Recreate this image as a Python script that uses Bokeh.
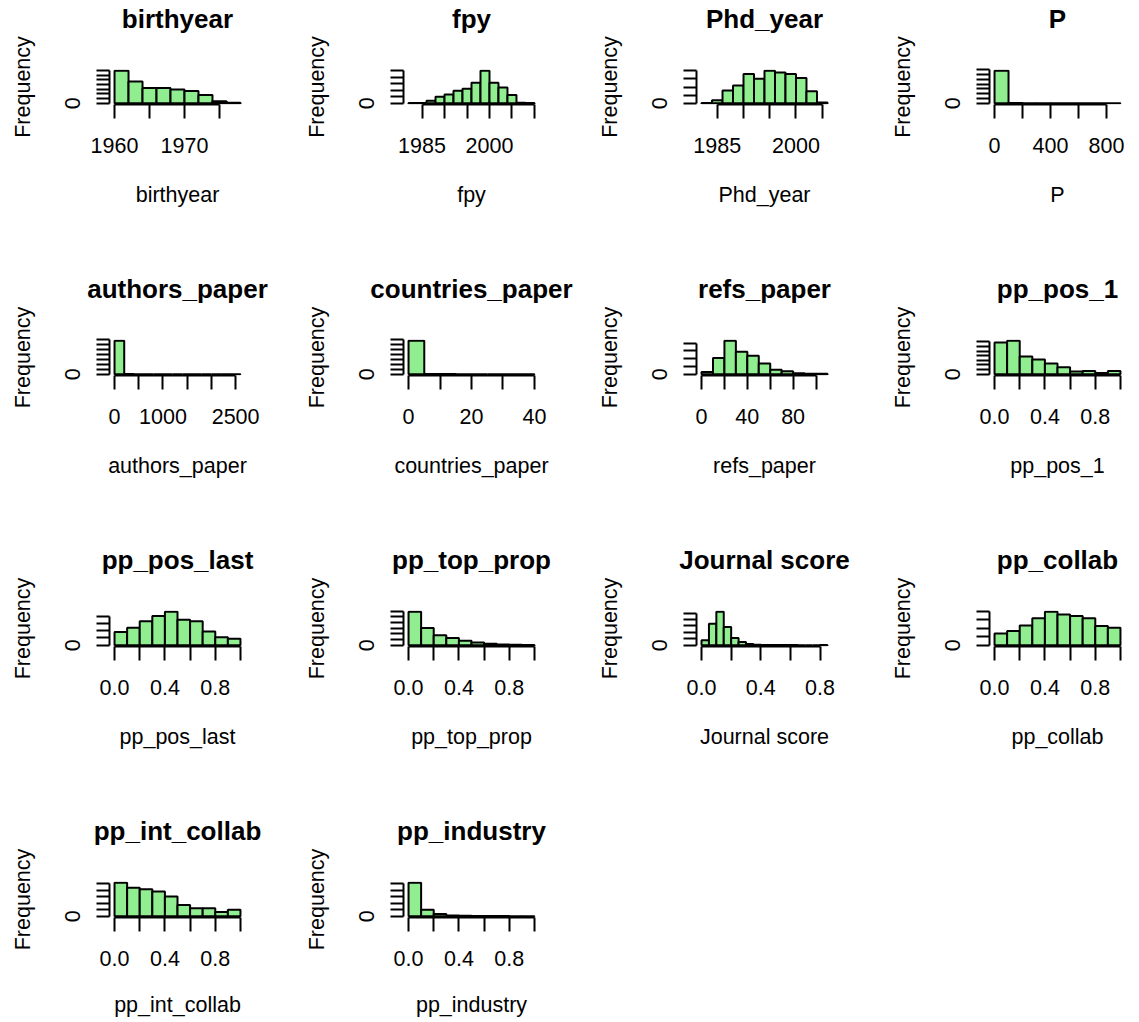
from bokeh.plotting import figure
from bokeh.layouts import column, row
from bokeh.models import Range1d, FixedTicker, LinearAxis
from bokeh.embed import file_html
from bokeh.resources import INLINE

# ---------------- data ----------------
titles = ["birthyear", "fpy", "Phd_year", "P",
          "authors_paper", "countries_paper", "refs_paper", "pp_pos_1",
          "pp_pos_last", "pp_top_prop", "Journal score", "pp_collab",
          "pp_int_collab", "pp_industry"]

bin_start = [1960, 1982, 1982, 0, 0, 0, 0, 0.0, 0.0, 0.0, 0.0, 0.0, 0.0, 0.0]
bin_width = [2, 2, 2, 100, 200, 5, 10, 0.1, 0.1, 0.1, 0.05, 0.1, 0.1, 0.1]

counts_birthyear = [345, 230, 163, 163, 146, 129, 88, 20, 4]
counts_fpy = [1, 2, 19, 49, 68, 97, 112, 158, 250, 158, 121, 63, 3, 1]
counts_phd_year = [2, 19, 78, 109, 181, 151, 200, 190, 181, 155, 74, 4]
counts_p = [1360, 12, 3, 2, 1, 0, 1, 0, 1]
counts_authors_paper = [1360, 3, 1, 0, 0, 0, 0, 0, 0, 0, 0, 0, 1]
counts_countries_paper = [1360, 10, 2, 1, 0, 0, 0, 1]
counts_refs_paper = [28, 208, 428, 288, 236, 136, 56, 36, 12, 4, 4]
counts_pp_pos_1 = [343, 360, 192, 158, 114, 74, 30, 34, 13, 34]
counts_pp_pos_last = [92, 121, 165, 202, 231, 176, 165, 95, 55, 44]
counts_pp_top_prop = [590, 305, 175, 128, 80, 48, 24, 12, 8, 5]
counts_journal_score = [75, 335, 520, 285, 110, 50, 20, 8, 4, 2, 1, 1, 1, 0, 0, 0, 1]
counts_pp_collab = [69, 84, 116, 159, 196, 181, 172, 159, 112, 103]
counts_pp_int_collab = [257, 220, 208, 191, 152, 86, 61, 61, 32, 49]
counts_pp_industry = [1030, 200, 70, 20, 10, 5, 3, 2, 1, 1]

all_counts = [counts_birthyear, counts_fpy, counts_phd_year, counts_p,
              counts_authors_paper, counts_countries_paper, counts_refs_paper, counts_pp_pos_1,
              counts_pp_pos_last, counts_pp_top_prop, counts_journal_score, counts_pp_collab,
              counts_pp_int_collab, counts_pp_industry]

y_step = [50, 50, 50, 200, 200, 200, 100, 50, 50, 100, 100, 50, 50, 200]
y_top = [350, 250, 200, 1400, 1400, 1400, 400, 350, 200, 600, 500, 200, 250, 1000]

ticks_birthyear = [1960, 1965, 1970, 1975]
labels_birthyear = ["1960", "", "1970", ""]
ticks_years = [1985, 1990, 1995, 2000, 2005, 2010]
labels_years = ["1985", "", "", "2000", "", ""]
ticks_phd = [1985, 1990, 1995, 2000, 2005]
labels_phd = ["1985", "", "", "2000", ""]
ticks_p = [0, 200, 400, 600, 800]
labels_p = ["0", "", "400", "", "800"]
ticks_authors = [0, 500, 1000, 1500, 2000, 2500]
labels_authors = ["0", "", "1000", "", "", "2500"]
ticks_countries = [0, 10, 20, 30, 40]
labels_countries = ["0", "", "20", "", "40"]
ticks_refs = [0, 20, 40, 60, 80, 100]
labels_refs = ["0", "", "40", "", "80", ""]
ticks_prop = [0.0, 0.2, 0.4, 0.6, 0.8, 1.0]
labels_prop = ["0.0", "", "0.4", "", "0.8", ""]
ticks_journal = [0.0, 0.2, 0.4, 0.6, 0.8]
labels_journal = ["0.0", "", "0.4", "", "0.8"]

x_ticks = [ticks_birthyear, ticks_years, ticks_phd, ticks_p,
           ticks_authors, ticks_countries, ticks_refs, ticks_prop,
           ticks_prop, ticks_prop, ticks_journal, ticks_prop,
           ticks_prop, ticks_prop]
x_labels = [labels_birthyear, labels_years, labels_phd, labels_p,
            labels_authors, labels_countries, labels_refs, labels_prop,
            labels_prop, labels_prop, labels_journal, labels_prop,
            labels_prop, labels_prop]

# ---------------- layout ----------------
FONT = "Liberation Sans"
FS = "21.5px"
FRAME_W, FRAME_H = 136, 36
col_width = [294, 293, 293, 259]
col_left = [109, 109, 109, 109]
row_height = [235, 271, 271, 245]
row_top = [68, 104, 104, 104]
xlab_standoff = [27, 27, 27, 24]
TITLE_STANDOFF = 36


def make_panel(i, r, c):
    counts = all_counts[i]
    n = len(counts)
    b0, bw = bin_start[i], bin_width[i]
    lefts = [b0 + k * bw for k in range(n)]
    rights = [b0 + (k + 1) * bw for k in range(n)]
    rng = rights[-1] - lefts[0]
    M = max(counts)
    W, H = col_width[c], row_height[r]
    x0, x1 = lefts[0] - 0.04 * rng, rights[-1] + 0.04 * rng
    p = figure(width=W, height=H,
               x_range=Range1d(x0, x1),
               y_range=Range1d(-0.04 * M, 1.04 * M),
               output_backend="svg", toolbar_location=None,
               min_border_left=col_left[c],
               min_border_right=W - col_left[c] - FRAME_W,
               min_border_top=row_top[r],
               min_border_bottom=H - row_top[r] - FRAME_H)
    p.outline_line_color = None
    p.grid.visible = False
    p.background_fill_color = "white"
    p.border_fill_color = "white"

    p.quad(left=lefts, right=rights, bottom=0, top=counts,
           fill_color="#90EE90", line_color="black", line_width=2)

    xa = p.below[0]
    ya = p.left[0]
    for ax in (xa, ya):
        ax.axis_line_width = 2
        ax.axis_line_color = "black"
        ax.major_tick_line_width = 2
        ax.major_tick_line_color = "black"
        ax.major_tick_in = 0
        ax.minor_tick_line_color = None
        ax.major_label_text_font = FONT
        ax.major_label_text_font_size = FS
        ax.major_label_text_color = "black"
        ax.axis_label_text_font = FONT
        ax.axis_label_text_font_size = FS
        ax.axis_label_text_font_style = "normal"
        ax.axis_label_text_color = "black"

    xa.ticker = FixedTicker(ticks=x_ticks[i])
    xa.bounds = (x_ticks[i][0], x_ticks[i][-1])
    xa.major_label_overrides = {t: l for t, l in zip(x_ticks[i], x_labels[i])}
    xa.major_tick_out = 14
    xa.major_label_standoff = 19
    xa.axis_label = titles[i]
    xa.axis_label_standoff = xlab_standoff[r]

    yt = list(range(0, y_top[i] + 1, y_step[i]))
    ya.ticker = FixedTicker(ticks=yt)
    ya.bounds = (0, yt[-1])
    ya.major_label_overrides = {t: ("0" if t == 0 else "") for t in yt}
    ya.major_label_orientation = "vertical"
    ya.major_tick_out = 13
    ya.major_label_standoff = 16
    ya.axis_label = "Frequency"
    ya.axis_label_standoff = 28

    # panel title (bold, centred over the plot region)
    tax = LinearAxis(ticker=FixedTicker(ticks=[]), axis_label=titles[i],
                     axis_line_color=None, major_tick_line_color=None,
                     minor_tick_line_color=None, major_tick_out=0, major_tick_in=0,
                     major_label_standoff=0,
                     axis_label_standoff=TITLE_STANDOFF,
                     axis_label_text_font=FONT, axis_label_text_font_size="26px",
                     axis_label_text_font_style="bold", axis_label_text_color="black")
    p.add_layout(tax, "above")
    return p


rows = []
idx = 0
for r in range(4):
    figs = []
    for c in range(4):
        if idx >= len(titles):
            break
        figs.append(make_panel(idx, r, c))
        idx += 1
    rows.append(row(*figs))

layout = column(*rows)
open("out.html", "w").write(file_html(layout, INLINE))
